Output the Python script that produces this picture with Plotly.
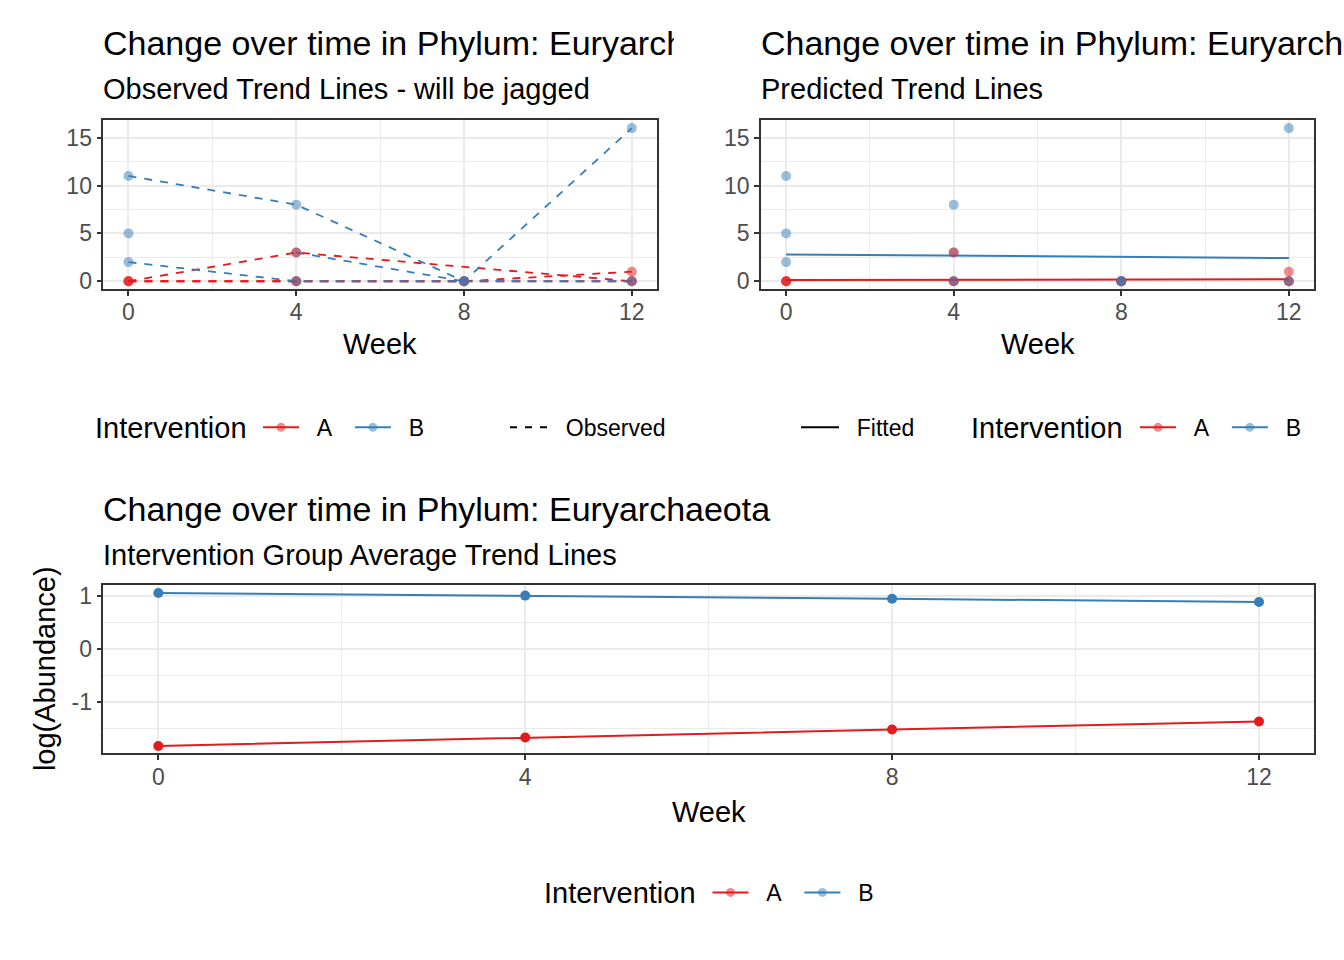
import plotly.graph_objects as go

# ---------------- data ----------------
weeks = [0, 4, 8, 12]

# observed abundance per subject (None = no sample that week)
subj_A1 = [0, 3, None, 0]
subj_A2 = [0, 0, 0, 1]
subj_A3 = [0, 0, 0, 0]
subj_B1 = [11, 8, 0, 16]
subj_B2 = [2, 0, 0, 0]
subj_B3 = [5, None, None, None]
subj_B4 = [None, 3, 0, None]

# model predicted trend (abundance)
fitted_A = [0.14, 0.16, 0.18, 0.20]
fitted_B = [2.80, 2.67, 2.54, 2.42]

# group average trend, log(Abundance)
avg_A = [-1.825, -1.665, -1.515, -1.365]
avg_B = [1.05, 1.00, 0.94, 0.88]

groups = ["A", "B"]
x_ticks = [0, 4, 8, 12]
y_ticks_top = [0, 5, 10, 15]
y_ticks_bot = [-1, 0, 1]
y_ticktext_bot = ["-1", "0", "1"]

subjects = [("A", subj_A1), ("A", subj_A2), ("A", subj_A3),
            ("B", subj_B1), ("B", subj_B2), ("B", subj_B3), ("B", subj_B4)]
point_order = [("B", subj_B4), ("A", subj_A1), ("A", subj_A2), ("A", subj_A3),
               ("B", subj_B1), ("B", subj_B2), ("B", subj_B3)]

# ---------------- style ----------------
W, H = 1344, 960
FONT = "Liberation Sans, Arial, sans-serif"
COL = {"A": "#E41A1C", "B": "#377EB8"}
COLA = {"A": "rgba(228,26,28,0.5)", "B": "rgba(55,126,184,0.5)"}
GRID = "#EBEBEB"
BORDER = "#333333"
TICKC = "#4D4D4D"
NB = "\u00a0"


def px_x(v):
    return v / W


def px_y(v):
    return 1 - v / H


fig = go.Figure()

# ---- top-left: observed lines ----
for g, ys in subjects:
    fig.add_trace(go.Scatter(x=weeks, y=ys, mode="lines", connectgaps=True,
                             line=dict(color=COL[g], width=1.8, dash="8px,8px"),
                             showlegend=False, hoverinfo="skip",
                             xaxis="x", yaxis="y"))
for g, ys in point_order:
    fig.add_trace(go.Scatter(x=weeks, y=ys, mode="markers",
                             marker=dict(color=COLA[g], size=10),
                             showlegend=False, xaxis="x", yaxis="y"))

# ---- top-right: fitted lines + observed points ----
for g, fv in (("B", fitted_B), ("A", fitted_A)):
    fig.add_trace(go.Scatter(x=weeks, y=fv, mode="lines",
                             line=dict(color=COL[g], width=2),
                             showlegend=False, xaxis="x2", yaxis="y2"))
for g, ys in point_order:
    fig.add_trace(go.Scatter(x=weeks, y=ys, mode="markers",
                             marker=dict(color=COLA[g], size=10),
                             showlegend=False, xaxis="x2", yaxis="y2"))

# ---- bottom: group averages ----
for g, av in (("A", avg_A), ("B", avg_B)):
    fig.add_trace(go.Scatter(x=weeks, y=av, mode="lines+markers",
                             line=dict(color=COL[g], width=2),
                             marker=dict(color=COL[g], size=10),
                             showlegend=False, xaxis="x3", yaxis="y3"))


# ---- legend keys ----
def key(label, legend, color, marker_color=None, dash="solid"):
    fig.add_trace(go.Scatter(x=[None], y=[None],
                             mode="lines+markers" if marker_color else "lines",
                             name=NB * 2 + label + NB * 2, legend=legend,
                             line=dict(color=color, width=2, dash=dash),
                             marker=dict(color=marker_color or color, size=9),
                             showlegend=True, xaxis="x3", yaxis="y3"))


for g in groups:
    key(g, "legend", COL[g], COLA[g])
key("Observed", "legend2", "black", dash="7px,8px")
key("Fitted", "legend3", "black")
for g in groups:
    key(g, "legend4", COL[g], COLA[g])
for g in groups:
    key(g, "legend5", COL[g], COLA[g])


# ---------------- axes ----------------
def xax(domain, anchor):
    return dict(domain=domain, anchor=anchor, range=[-0.6, 12.6],
                tickvals=x_ticks, ticks="outside", ticklen=5,
                tickwidth=1.5, tickcolor=BORDER, ticklabelstandoff=-3,
                tickfont=dict(family=FONT, size=23, color=TICKC),
                showgrid=True, gridcolor=GRID, gridwidth=1.8,
                minor=dict(tickvals=[2, 6, 10], showgrid=True,
                           gridcolor=GRID, gridwidth=0.9, ticks=""),
                showline=True, mirror=True, linecolor=BORDER, linewidth=1.5,
                zeroline=False, fixedrange=True)


def yax(domain, anchor, rng, tv, tt, minor):
    return dict(domain=domain, anchor=anchor, range=rng, tickvals=tv,
                ticktext=tt,
                ticks="outside", ticklen=5, tickwidth=1.5, tickcolor=BORDER,
                tickfont=dict(family=FONT, size=23, color=TICKC),
                showgrid=True, gridcolor=GRID, gridwidth=1.8,
                minor=dict(tickvals=minor, showgrid=True,
                           gridcolor=GRID, gridwidth=0.9, ticks=""),
                showline=True, mirror=True, linecolor=BORDER, linewidth=1.5,
                zeroline=False, fixedrange=True)


top_dom = [px_y(289), px_y(119.3)]
bot_dom = [px_y(757), px_y(587.5)]
top_tt = [str(v) for v in y_ticks_top]

legend_common = dict(orientation="h", yanchor="middle", xanchor="left",
                     bgcolor="rgba(0,0,0,0)", borderwidth=0, itemwidth=36,
                     font=dict(family=FONT, size=23, color="black"),
                     itemclick=False, itemdoubleclick=False)

fig.update_layout(
    width=W, height=H, autosize=False,
    margin=dict(l=0, r=0, t=0, b=0),
    paper_bgcolor="white", plot_bgcolor="white",
    font=dict(family=FONT, color="black"),
    xaxis=xax([px_x(103.3), px_x(657)], "y"),
    yaxis=yax(top_dom, "x", [-0.8, 16.8], y_ticks_top, top_tt, [2.5, 7.5, 12.5]),
    xaxis2=xax([px_x(761), px_x(1314)], "y2"),
    yaxis2=yax(top_dom, "x2", [-0.8, 16.8], y_ticks_top, top_tt, [2.5, 7.5, 12.5]),
    xaxis3=xax([px_x(103.3), px_x(1314)], "y3"),
    yaxis3=yax(bot_dom, "x3", [-1.965, 1.195], y_ticks_bot, y_ticktext_bot,
               [-1.5, -0.5, 0.5]),
    legend=dict(legend_common, x=px_x(258), y=px_y(428.5)),
    legend2=dict(legend_common, x=px_x(505), y=px_y(428.5), itemwidth=38),
    legend3=dict(legend_common, x=px_x(796), y=px_y(428.5), itemwidth=38),
    legend4=dict(legend_common, x=px_x(1135), y=px_y(428.5)),
    legend5=dict(legend_common, x=px_x(707.5), y=px_y(897)),
    hovermode=False,
)

# ---------------- text ----------------
title = "Change over time in Phylum: Euryarchaeota"
ann = []


def text(t, x, y, size, width=None, xanchor="left", angle=0):
    d = dict(text=t, x=px_x(x), y=px_y(y), xref="paper", yref="paper",
             xanchor=xanchor, yanchor="middle", showarrow=False,
             font=dict(family=FONT, size=size, color="black"),
             textangle=angle, align="left", borderpad=0)
    if width:
        d["width"] = width
    ann.append(d)


text(title, 101.5, 41.5, 34, width=571)
text("Observed Trend Lines - will be jagged", 101.5, 88, 29)
text(title, 760, 41.5, 34, width=584)
text("Predicted Trend Lines", 760, 88, 29)
text(title, 101.5, 511, 34)
text("Intervention Group Average Trend Lines", 101.5, 557, 29)
text("Week", 380, 345, 29, xanchor="center")
text("Week", 1037.5, 345, 29, xanchor="center")
text("Week", 709, 816, 29, xanchor="center")
text("log(Abundance)", 45, 672, 29, xanchor="center", angle=-90)
text("Intervention", 93.5, 429, 29)
text("Intervention", 969.5, 429, 29)
text("Intervention", 542.5, 898, 29)

fig.update_layout(annotations=ann)

fig.write_html("out.html", config={"displayModeBar": False},
               post_script="document.body.style.margin='0';document.body.style.overflow='hidden';")
